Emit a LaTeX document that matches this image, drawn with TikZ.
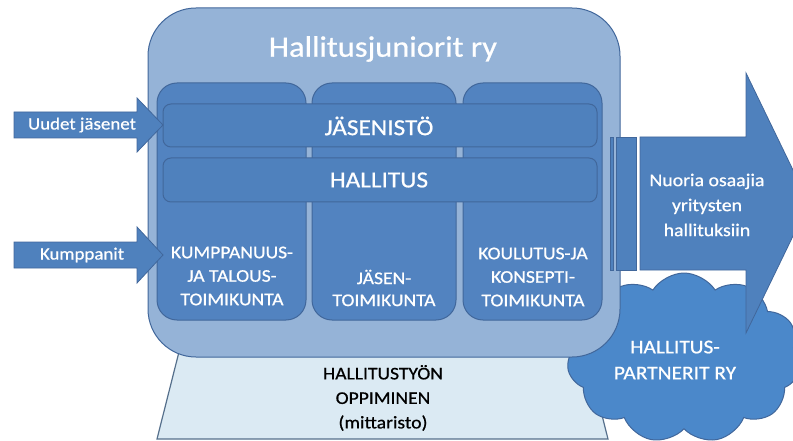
\documentclass[tikz,border=0pt]{standalone}
\usepackage{fontspec}
\setmainfont{Carlito}[FakeStretch=1.1, FakeBold=0.7]
\usetikzlibrary{shapes.symbols}
\definecolor{outerfill}{HTML}{95B3D7}
\definecolor{edgeblue}{HTML}{41679B}
\definecolor{colfill}{HTML}{5283C0}
\definecolor{barfill}{HTML}{4F81BD}
\definecolor{arrowfill}{HTML}{4F81BD}
\definecolor{cloudfill}{HTML}{4B88CA}
\definecolor{trapfill}{HTML}{DBEAF3}
\definecolor{trapedge}{HTML}{56708C}
\tikzset{
  outerbox/.style={draw=edgeblue, fill=outerfill, line width=1pt, rounded corners=48pt},
  colbox/.style={draw=edgeblue, fill=colfill, line width=1pt, rounded corners=20pt},
  barbox/.style={draw=edgeblue, fill=barfill, line width=1pt, rounded corners=8pt},
  blockarrow/.style={draw=edgeblue, fill=arrowfill, line width=0.8pt},
  trap/.style={draw=trapedge, fill=trapfill, line width=1.2pt},
  wtext/.style={text=white, align=center, inner sep=0pt},
  btext/.style={text=black, align=center, inner sep=0pt},
}
\begin{document}
\begin{tikzpicture}[x=1pt,y=-1pt]
\useasboundingbox (0,0) rectangle (793,441);
\clip (0,0) rectangle (793,441);
% base trapezoid
\draw[trap] (182,340) -- (583,340) -- (608,439) -- (157,439) -- cycle;
% cloud
\node[cloud, cloud puffs=11, cloud puff arc=115, aspect=1.4, draw=edgeblue, fill=cloudfill,
      line width=1pt, minimum width=234pt, minimum height=170pt, inner sep=0pt] (cloud) at (684,358) {};
% outer box
\draw[outerbox] (148,8) rectangle (620,357);
% columns
\draw[colbox] (157,83) rectangle (306,320);
\draw[colbox] (312,83) rectangle (456,320);
\draw[colbox] (463,83) rectangle (602,320);
% bars
\draw[barbox] (163,104) rectangle (597,147);
\draw[barbox] (163,158) rectangle (597,202);
% left arrows
\draw[blockarrow] (14,112) -- (137,112) -- (137,98) -- (163,125) -- (137,152) -- (137,138) -- (14,138) -- cycle;
\draw[blockarrow] (14,242) -- (137,242) -- (137,227) -- (163,255) -- (137,283) -- (137,268) -- (14,268) -- cycle;
% right striped arrow
\draw[blockarrow] (610,137) rectangle (613,270);
\draw[blockarrow] (616,137) rectangle (636,270);
\draw[blockarrow] (640,137) -- (746,137) -- (746,73) -- (809,203) -- (746,333) -- (746,270) -- (640,270) -- cycle;
% texts
\node[wtext, font=\fontsize{29.5}{34}\selectfont] (title) at (383,49) {Hallitusjuniorit ry};
\node[wtext, font=\fontsize{23}{28}\selectfont] (jasenisto) at (379,126) {JÄSENISTÖ};
\node[wtext, font=\fontsize{23}{28}\selectfont] (hallitus) at (379,180) {HALLITUS};
\node[wtext, font=\fontsize{17.8}{23.5}\selectfont] (col1) at (232,276) {KUMPPANUUS-\\JA TALOUS-\\TOIMIKUNTA};
\node[wtext, font=\fontsize{17.8}{22}\selectfont] (col2) at (384,288) {JÄSEN-\\TOIMIKUNTA};
\node[wtext, font=\fontsize{17.8}{23.5}\selectfont] (col3) at (533,277) {KOULUTUS-JA\\KONSEPTI-\\TOIMIKUNTA};
\node[wtext, font=\fontsize{17.2}{20}\selectfont] (uudet) at (82,125) {Uudet jäsenet};
\node[wtext, font=\fontsize{17.2}{20}\selectfont] (kump) at (82,255) {Kumppanit};
\node[wtext, font=\fontsize{18}{25}\selectfont] (nuoria) at (707,205) {Nuoria osaajia\\yritysten\\hallituksiin};
\node[wtext, font=\fontsize{19.5}{26}\selectfont] (partner) at (675,360) {HALLITUS-\\PARTNERIT RY};
\node[btext, font=\fontsize{17.8}{24.5}\selectfont] (oppiminen) at (383,398) {HALLITUSTYÖN\\OPPIMINEN\\(mittaristo)};
\end{tikzpicture}
\end{document}
